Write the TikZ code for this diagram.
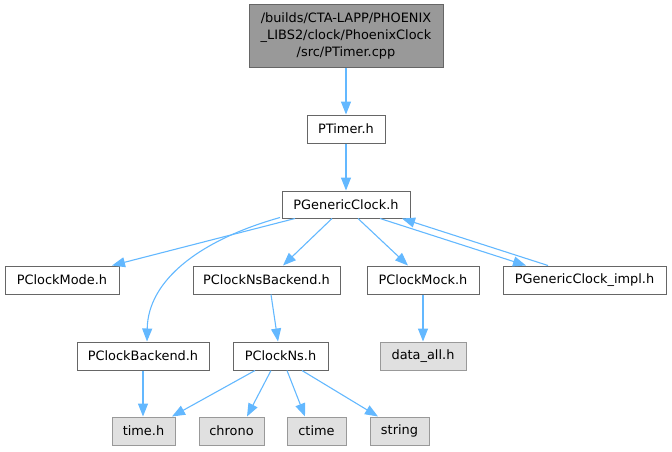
\documentclass[tikz,border=0pt]{standalone}
\usepackage{fontspec}
\setmainfont{DejaVu Sans}
\usetikzlibrary{arrows.meta,calc}
\definecolor{edgeblue}{HTML}{63B8FF}
\definecolor{boxborder}{HTML}{666666}
\definecolor{extborder}{HTML}{999999}
\definecolor{extfill}{HTML}{E0E0E0}
\definecolor{topfill}{HTML}{999999}
\tikzset{
  filebox/.style={draw=boxborder, fill=white, line width=1pt, inner sep=0pt,
    minimum height=28pt, font=\fontsize{12.9}{16}\selectfont, text=black},
  extbox/.style={filebox, draw=extborder, fill=extfill},
  topbox/.style={filebox, fill=topfill, align=center, font=\fontsize{12.9}{17}\selectfont},
  dep/.style={draw=edgeblue, line width=1.1pt, -{Triangle[length=13pt,width=10pt]}},
}
\begin{document}
\begin{tikzpicture}[x=1pt,y=-1pt]
\useasboundingbox (0,0) rectangle (672,451);
\node[topbox, minimum width=194pt, minimum height=63pt] (top) at (346,35.5)
  {/builds/CTA-LAPP/PHOENIX\\\_LIBS2/clock/PhoenixClock\\/src/PTimer.cpp};
\node[filebox, minimum width=78pt] (ptimer) at (346,129) {PTimer.h};
\node[filebox, minimum width=128pt, minimum height=27pt] (gc) at (346,204.5) {PGenericClock.h};
\node[filebox, minimum width=114pt] (mode) at (62,280) {PClockMode.h};
\node[filebox, minimum width=147pt] (nsb) at (266.5,280) {PClockNsBackend.h};
\node[filebox, minimum width=112pt] (mock) at (423,280) {PClockMock.h};
\node[filebox, minimum width=163pt] (impl) at (584.5,280) {PGenericClock\_impl.h};
\node[filebox, minimum width=132pt] (backend) at (143,356) {PClockBackend.h};
\node[filebox, minimum width=95pt] (ns) at (280.5,356) {PClockNs.h};
\node[extbox, minimum width=86pt] (data) at (423,356) {data\_all.h};
\node[extbox, minimum width=63pt] (time) at (143.5,431) {time.h};
\node[extbox, minimum width=65pt] (chrono) at (231.5,431) {chrono};
\node[extbox, minimum width=59pt] (ctime) at (316.5,431) {ctime};
\node[extbox, minimum width=59pt] (string) at (399.5,431) {string};

\draw[dep] (top.south) -- (ptimer.north);
\draw[dep] (ptimer.south) -- (gc.north);
\draw[dep] ($(gc.south)+(-51,0)$) -- ($(mode.north)+(50,0)$);
\draw[dep] ($(gc.south)+(-66,-1)$) .. controls (200,240) and (148,280) .. ($(backend.north)+(4,0)$);
\draw[dep] ($(gc.south)+(-14,0)$) -- ($(nsb.north)+(16.5,0)$);
\draw[dep] ($(gc.south)+(12,0)$) -- ($(mock.north)+(-15,0)$);
\draw[dep] ($(gc.south)+(34,0)$) -- ($(impl.north)+(-58.5,0)$);
\draw[dep] ($(impl.north)+(-36.5,0)$) -- ($(gc.south)+(56,0)$);
\draw[dep] ($(nsb.south)+(4.5,0)$) -- ($(ns.north)+(-2.5,0)$);
\draw[dep] (mock.south) -- (data.north);
\draw[dep] (backend.south) -- ($(time.north)+(-0.5,0)$);
\draw[dep] ($(ns.south)+(-25.5,0)$) -- ($(time.north)+(28.5,0)$);
\draw[dep] ($(ns.south)+(-9.5,0)$) -- ($(chrono.north)+(15.5,0)$);
\draw[dep] ($(ns.south)+(6.5,0)$) -- ($(ctime.north)+(-11.5,0)$);
\draw[dep] ($(ns.south)+(21.5,0)$) -- ($(string.north)+(-21.5,0)$);
\end{tikzpicture}
\end{document}
